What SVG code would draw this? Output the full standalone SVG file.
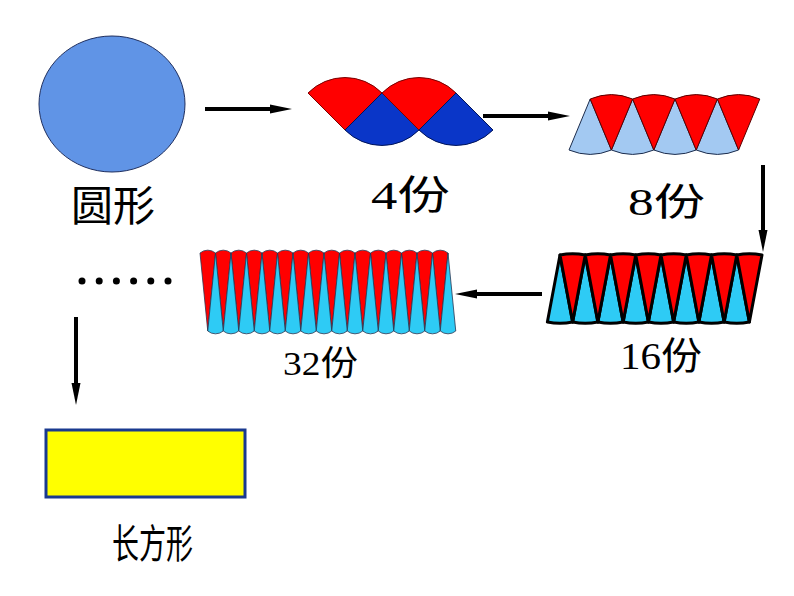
<svg xmlns="http://www.w3.org/2000/svg" xmlns:xlink="http://www.w3.org/1999/xlink" width="794" height="596" viewBox="0 0 794 596">
<style>
.lbl{font-family:"Liberation Serif","Noto Sans CJK SC",serif;fill:#000}
.cjk{font-family:"Noto Sans CJK SC",sans-serif;fill:#000}
.conn{stroke:#000;stroke-width:4;fill:none}
.red{fill:#FF0000}
.r4{stroke:#7a0000;stroke-width:1}
.b4{fill:#0A36C8;stroke:#00145a;stroke-width:1}
.lb{fill:#A3C9F2;stroke:#1c2c4c;stroke-width:1}
.r8{stroke:#5a0000;stroke-width:1}
.k16{stroke:#000;stroke-width:3;stroke-linejoin:round}
.cy{fill:#2ECBF5}
.t32{stroke:#2a3550;stroke-width:0.8}
</style>
<defs>
<marker id="ah" viewBox="0 -5 22 10" refX="2" refY="0" markerWidth="22" markerHeight="10" markerUnits="userSpaceOnUse" orient="auto">
<path d="M0,-4.5 L22,0 L0,4.5 Z" fill="#000"/>
</marker>
<path id="u8" d="M0,0 L-21.2,51 A55,55 0 0 0 21.2,51 Z"/>
<path id="d8" d="M0,0 L-21.2,-51 A55,55 0 0 1 21.2,-51 Z"/>
<path id="u16" d="M0,0 L-12.625,67 A68,68 0 0 0 12.625,67 Z"/>
<path id="d16" d="M0,0 L-12.625,-67 A68,68 0 0 1 12.625,-67 Z"/>
<path id="u32" d="M0,0 L-7.75,78 A12,12 0 0 0 7.75,78 Z"/>
<path id="d32" d="M0,0 L-7.75,-78 A12,12 0 0 1 7.75,-78 Z"/>
</defs>
<rect width="794" height="596" fill="#fff"/>

<g id="circle">
<ellipse cx="112" cy="104" rx="73" ry="68" fill="#6094E6" stroke="#1F2F5F" stroke-width="1"/>
<text class="cjk" x="71" y="221" font-size="42">圆形</text>
</g>

<g id="parts4">
<path class="red r4" d="M345,130 L308,93 A52,52 0 0 1 382,93 Z"/>
<path class="b4" d="M382,93 L419,130 A52,52 0 0 1 345,130 Z"/>
<path class="red r4" d="M419,130 L382,93 A52,52 0 0 1 456,93 Z"/>
<path class="b4" d="M456,93 L493,130 A52,52 0 0 1 419,130 Z"/>
<text class="lbl" x="371" y="209" font-size="40" textLength="79" lengthAdjust="spacingAndGlyphs">4份</text>
</g>

<g id="parts8">
<g class="lb">
<use xlink:href="#u8" x="590.2" y="99"/>
<use xlink:href="#u8" x="632.6" y="99"/>
<use xlink:href="#u8" x="675" y="99"/>
<use xlink:href="#u8" x="717.4" y="99"/>
</g>
<g class="red r8">
<use xlink:href="#d8" x="611.4" y="150"/>
<use xlink:href="#d8" x="653.8" y="150"/>
<use xlink:href="#d8" x="696.2" y="150"/>
<use xlink:href="#d8" x="738.6" y="150"/>
</g>
<text class="lbl" x="628" y="215" font-size="38" textLength="77" lengthAdjust="spacingAndGlyphs">8份</text>
</g>

<g id="parts16">
<g class="cy k16">
<use xlink:href="#u16" x="560" y="255"/>
<use xlink:href="#u16" x="585.25" y="255"/>
<use xlink:href="#u16" x="610.5" y="255"/>
<use xlink:href="#u16" x="635.75" y="255"/>
<use xlink:href="#u16" x="661" y="255"/>
<use xlink:href="#u16" x="686.25" y="255"/>
<use xlink:href="#u16" x="711.5" y="255"/>
<use xlink:href="#u16" x="736.75" y="255"/>
</g>
<g class="red k16">
<use xlink:href="#d16" x="572.625" y="322"/>
<use xlink:href="#d16" x="597.875" y="322"/>
<use xlink:href="#d16" x="623.125" y="322"/>
<use xlink:href="#d16" x="648.375" y="322"/>
<use xlink:href="#d16" x="673.625" y="322"/>
<use xlink:href="#d16" x="698.875" y="322"/>
<use xlink:href="#d16" x="724.125" y="322"/>
<use xlink:href="#d16" x="749.375" y="322"/>
</g>
<text class="lbl" x="620" y="369" font-size="38" textLength="82" lengthAdjust="spacingAndGlyphs">16份</text>
</g>

<g id="parts32">
<g class="red t32">
<use xlink:href="#d32" x="207.75" y="331"/>
<use xlink:href="#d32" x="223.25" y="331"/>
<use xlink:href="#d32" x="238.75" y="331"/>
<use xlink:href="#d32" x="254.25" y="331"/>
<use xlink:href="#d32" x="269.75" y="331"/>
<use xlink:href="#d32" x="285.25" y="331"/>
<use xlink:href="#d32" x="300.75" y="331"/>
<use xlink:href="#d32" x="316.25" y="331"/>
<use xlink:href="#d32" x="331.75" y="331"/>
<use xlink:href="#d32" x="347.25" y="331"/>
<use xlink:href="#d32" x="362.75" y="331"/>
<use xlink:href="#d32" x="378.25" y="331"/>
<use xlink:href="#d32" x="393.75" y="331"/>
<use xlink:href="#d32" x="409.25" y="331"/>
<use xlink:href="#d32" x="424.75" y="331"/>
<use xlink:href="#d32" x="440.25" y="331"/>
</g>
<g class="cy t32">
<use xlink:href="#u32" x="215.5" y="253"/>
<use xlink:href="#u32" x="231" y="253"/>
<use xlink:href="#u32" x="246.5" y="253"/>
<use xlink:href="#u32" x="262" y="253"/>
<use xlink:href="#u32" x="277.5" y="253"/>
<use xlink:href="#u32" x="293" y="253"/>
<use xlink:href="#u32" x="308.5" y="253"/>
<use xlink:href="#u32" x="324" y="253"/>
<use xlink:href="#u32" x="339.5" y="253"/>
<use xlink:href="#u32" x="355" y="253"/>
<use xlink:href="#u32" x="370.5" y="253"/>
<use xlink:href="#u32" x="386" y="253"/>
<use xlink:href="#u32" x="401.5" y="253"/>
<use xlink:href="#u32" x="417" y="253"/>
<use xlink:href="#u32" x="432.5" y="253"/>
<use xlink:href="#u32" x="448" y="253"/>
</g>
<text class="lbl" x="283" y="375" font-size="34" textLength="75" lengthAdjust="spacingAndGlyphs">32份</text>
</g>

<g id="ellipsis" fill="#000">
<circle cx="82" cy="281" r="3.5"/>
<circle cx="99.2" cy="281" r="3.5"/>
<circle cx="116.4" cy="281" r="3.5"/>
<circle cx="133.6" cy="281" r="3.5"/>
<circle cx="150.8" cy="281" r="3.5"/>
<circle cx="168" cy="281" r="3.5"/>
</g>

<g id="rectangle">
<rect x="46" y="430" width="199" height="67" fill="#FFFF00" stroke="#1a3a8f" stroke-width="3"/>
<text class="cjk" x="112" y="558" font-size="40" textLength="81" lengthAdjust="spacingAndGlyphs">长方形</text>
</g>

<g id="connectors" class="conn">
<line x1="205" y1="109" x2="272" y2="109" marker-end="url(#ah)"/>
<line x1="483" y1="116" x2="550" y2="116" marker-end="url(#ah)"/>
<line x1="763" y1="165" x2="763" y2="232" marker-end="url(#ah)"/>
<line x1="542" y1="294" x2="475" y2="294" marker-end="url(#ah)"/>
<line x1="76" y1="317" x2="76" y2="385" marker-end="url(#ah)"/>
</g>
</svg>
